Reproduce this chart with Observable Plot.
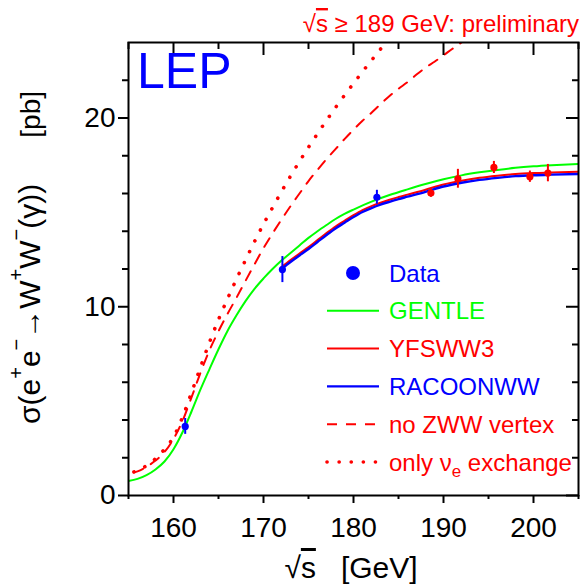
<!DOCTYPE html>
<html><head><meta charset="utf-8">
<script src="https://cdn.jsdelivr.net/npm/d3@7"></script>
<script src="https://cdn.jsdelivr.net/npm/@observablehq/plot@0.6"></script>
<style>body{margin:0;background:#fff} svg{display:block}</style>
</head><body><div id="chart"></div>
<script>
// ---- data ----
const dataSqrtS = [161.3, 172.1, 182.6, 188.6, 191.6, 195.6, 199.6, 201.6];
const dataSigma = [3.66, 11.97, 15.8, 16.02, 16.78, 17.38, 16.89, 17.08];
const dataError = [0.42, 0.69, 0.37, 0.22, 0.5, 0.32, 0.3, 0.46];
const dataPrelim = [false, false, false, true, true, true, true, true];

const gentleX = [155, 156, 157, 158, 159, 160, 161, 162, 163, 164, 165, 166, 167, 168, 169, 170, 171, 172, 173, 174, 175, 176, 177, 178, 179, 180, 182, 184, 186, 188, 190, 192, 194, 196, 198, 200, 202, 205];
const gentleY = [0.77, 0.88, 1.08, 1.38, 1.8, 2.45, 3.35, 4.45, 5.62, 6.7, 7.75, 8.72, 9.55, 10.3, 10.95, 11.5, 12.0, 12.45, 12.85, 13.25, 13.65, 14.0, 14.33, 14.65, 14.92, 15.15, 15.57, 15.92, 16.22, 16.5, 16.75, 16.96, 17.12, 17.25, 17.36, 17.44, 17.5, 17.57];

const mcX = [172, 173, 174, 175, 176, 177, 178, 179, 180, 181, 182, 183, 184, 185, 186, 188, 190, 192, 194, 196, 198, 200, 202, 205];
const racoonY = [12.0, 12.37, 12.72, 13.06, 13.43, 13.8, 14.15, 14.45, 14.75, 15.02, 15.23, 15.41, 15.56, 15.7, 15.83, 16.09, 16.37, 16.57, 16.72, 16.83, 16.92, 16.97, 17.0, 17.03];
const yfsY = [12.1, 12.47, 12.82, 13.16, 13.53, 13.9, 14.25, 14.55, 14.85, 15.12, 15.33, 15.51, 15.67, 15.81, 15.94, 16.2, 16.48, 16.68, 16.83, 16.94, 17.03, 17.08, 17.11, 17.15];

const noZwwX = [155.6, 156, 157, 158, 159, 160, 161, 162, 163, 164, 165, 166, 167, 168, 169, 170, 171, 172, 173, 174, 175, 176, 177, 178, 179, 180, 181, 182, 183, 184, 185, 186, 187, 188, 189, 190, 191, 192];
const noZwwY = [1.22, 1.28, 1.52, 1.85, 2.3, 3.0, 3.95, 5.2, 6.5, 7.7, 8.7, 9.62, 10.48, 11.37, 12.25, 13.1, 13.88, 14.62, 15.33, 16.0, 16.66, 17.25, 17.82, 18.35, 18.88, 19.38, 19.85, 20.28, 20.73, 21.17, 21.55, 21.9, 22.3, 22.67, 22.98, 23.32, 23.67, 24.0];

const nueX = [155.6, 156, 157, 158, 159, 160, 161, 162, 163, 164, 165, 166, 167, 168, 169, 170, 171, 172, 173, 174, 175, 176, 177, 178, 179, 180, 181, 182, 183, 184];
const nueY = [1.25, 1.32, 1.58, 1.95, 2.45, 3.1, 4.15, 5.45, 6.8, 8.12, 9.32, 10.42, 11.47, 12.47, 13.45, 14.38, 15.25, 16.1, 16.92, 17.7, 18.45, 19.17, 19.87, 20.55, 21.2, 21.83, 22.45, 23.05, 23.65, 24.22];

const xMajor = [160, 170, 180, 190, 200];
const xMinor = [155, 165, 175, 185, 195, 205];
const yMajor = [0, 10, 20];
const yMinor = [2, 4, 6, 8, 12, 14, 16, 18, 22];

const legendLabels = ["Data", "GENTLE", "YFSWW3", "RACOONWW", "no ZWW vertex", "only \u03bd"];

// ---- build tables ----
const zip = (xs, ys) => xs.map((x, i) => ({x, y: ys[i]}));
const gentle = zip(gentleX, gentleY);
const racoon = zip(mcX, racoonY);
const yfs = zip(mcX, yfsY);
const noZww = zip(noZwwX, noZwwY);
const nue = zip(nueX, nueY);
const points = dataSqrtS.map((x, i) => ({x, y: dataSigma[i], e: dataError[i], c: dataPrelim[i] ? "#ff0000" : "#0000ff"}));

const FONT = "'Liberation Sans', Arial, Helvetica, sans-serif";
const RED = "#ff0000", GREEN = "#00ff00", BLUE = "#0000ff";

const W = 582, H = 584, ML = 128, MR = 4, MT = 42, MB = 89;
const FW = W - ML - MR, FH = H - MT - MB;

const chart = Plot.plot({
  width: W, height: H,
  marginLeft: ML, marginRight: MR, marginTop: MT, marginBottom: MB,
  style: {fontFamily: FONT, background: "#fff", color: "#000", overflow: "visible"},
  x: {domain: [155, 205]},
  y: {domain: [0, 24]},
  marks: [
    Plot.line(noZww, {x: "x", y: "y", stroke: RED, strokeWidth: 2, strokeDasharray: "10,9", curve: "monotone-x", clip: true}),
    Plot.line(nue, {x: "x", y: "y", stroke: RED, strokeWidth: 3.6, strokeDasharray: "0.1,12", strokeLinecap: "round", curve: "monotone-x", clip: true}),
    Plot.line(gentle, {x: "x", y: "y", stroke: GREEN, strokeWidth: 2, curve: "monotone-x", clip: true}),
    Plot.line(yfs, {x: "x", y: "y", stroke: RED, strokeWidth: 2, curve: "monotone-x", clip: true}),
    Plot.line(racoon, {x: "x", y: "y", stroke: BLUE, strokeWidth: 2.4, curve: "monotone-x", clip: true}),
    Plot.ruleX(points, {x: "x", y1: d => d.y - d.e, y2: d => d.y + d.e, stroke: "c", strokeWidth: 2}),
    Plot.dot(points, {x: "x", y: "y", r: 3.6, fill: "c", stroke: "none"}),
    // axes: left & bottom outward
    Plot.axisY({ticks: yMajor, tickSize: 10, tickPadding: 3, fontSize: 28, label: null, strokeWidth: 2}),
    Plot.axisY({ticks: yMinor, tickSize: 6, tickFormat: () => "", label: null, strokeWidth: 2}),
    Plot.axisX({ticks: xMajor, tickSize: 8, tickPadding: 14, fontSize: 28, label: null, strokeWidth: 2}),
    Plot.axisX({ticks: xMinor, tickSize: 4, tickFormat: () => "", label: null, strokeWidth: 2}),
    // top & right inward
    Plot.tickX(xMajor, {x: d => d, insetBottom: FH - 13, stroke: "#000", strokeWidth: 2}),
    Plot.tickX(xMinor, {x: d => d, insetBottom: FH - 7, stroke: "#000", strokeWidth: 2}),
    Plot.tickY(yMajor, {y: d => d, insetLeft: FW - 12, stroke: "#000", strokeWidth: 2}),
    Plot.tickY(yMinor, {y: d => d, insetLeft: FW - 6, stroke: "#000", strokeWidth: 2}),
    Plot.frame({stroke: "#000", strokeWidth: 2})
  ]
});
document.getElementById("chart").appendChild(chart);

const svgSel = d3.select(chart);
const ann = svgSel.append("g").attr("font-family", FONT).attr("text-anchor", "start");

// LEP
ann.append("text").attr("x", 137).attr("y", 88).attr("text-anchor", "start").attr("font-size", 50).attr("fill", BLUE).text("LEP");

// top annotation
const topNote = ann.append("text").attr("x", 579).attr("y", 32).attr("text-anchor", "end").attr("font-size", 24).attr("fill", RED);
topNote.append("tspan").text("\u221a");
topNote.append("tspan").style("text-decoration", "overline").text("s");
topNote.append("tspan").text(" \u2265 189 GeV: preliminary");

// x title
const xt = ann.append("text").attr("x", 351).attr("y", 578).attr("text-anchor", "middle").attr("font-size", 30).attr("fill", "#000");
xt.append("tspan").text("\u221a");
xt.append("tspan").style("text-decoration", "overline").text("s");
xt.append("tspan").text("\u00a0\u00a0\u00a0[GeV]");

// y title (reads bottom to top)
const yt = ann.append("text").attr("transform", "translate(40,424) rotate(-90)").attr("text-anchor", "start").attr("font-size", 30).attr("fill", "#000");
const sup = (t) => { yt.append("tspan").attr("font-size", 20).attr("dy", -17).text(t); };
const norm = (t, back) => { yt.append("tspan").attr("font-size", 30).attr("dy", back ? 17 : 0).text(t); };
norm("\u03c3(e"); sup("+"); norm("e", true); sup("\u2212"); norm("\u2192W", true); sup("+"); norm("W", true); sup("\u2212"); norm("(\u03b3))", true);
yt.append("tspan").attr("font-size", 28).attr("dx", 46).text("[pb]");

// legend
const lg = ann.append("g").attr("font-size", 24).attr("text-anchor", "start");
const y0 = 273, dy = 37.8, lx1 = 327, lx2 = 379, tx = 389;
const legendStyles = [
  {c: BLUE, kind: "dot"},
  {c: GREEN, kind: "line", w: 2},
  {c: RED, kind: "line", w: 2},
  {c: BLUE, kind: "line", w: 2.4},
  {c: RED, kind: "line", w: 2, dash: "10,9"},
  {c: RED, kind: "line", w: 3.6, dash: "0.1,12", cap: "round"}
];
legendLabels.forEach((label, i) => {
  const s = legendStyles[i];
  const yy = y0 + i * dy;
  if (s.kind === "dot") {
    lg.append("circle").attr("cx", 353).attr("cy", yy).attr("r", 7).attr("fill", s.c);
  } else {
    const l = lg.append("line").attr("x1", lx1).attr("x2", lx2).attr("y1", yy).attr("y2", yy)
      .attr("stroke", s.c).attr("stroke-width", s.w);
    if (s.dash) l.attr("stroke-dasharray", s.dash);
    if (s.cap) l.attr("stroke-linecap", s.cap);
  }
  const t = lg.append("text").attr("x", tx).attr("y", yy + 8.6).attr("text-anchor", "start").attr("fill", s.c).text(label);
  if (i === 5) {
    t.append("tspan").attr("font-size", 17).attr("dy", 6).text("e");
    t.append("tspan").attr("font-size", 24).attr("dy", -6).text(" exchange");
  }
});
</script></body></html>
